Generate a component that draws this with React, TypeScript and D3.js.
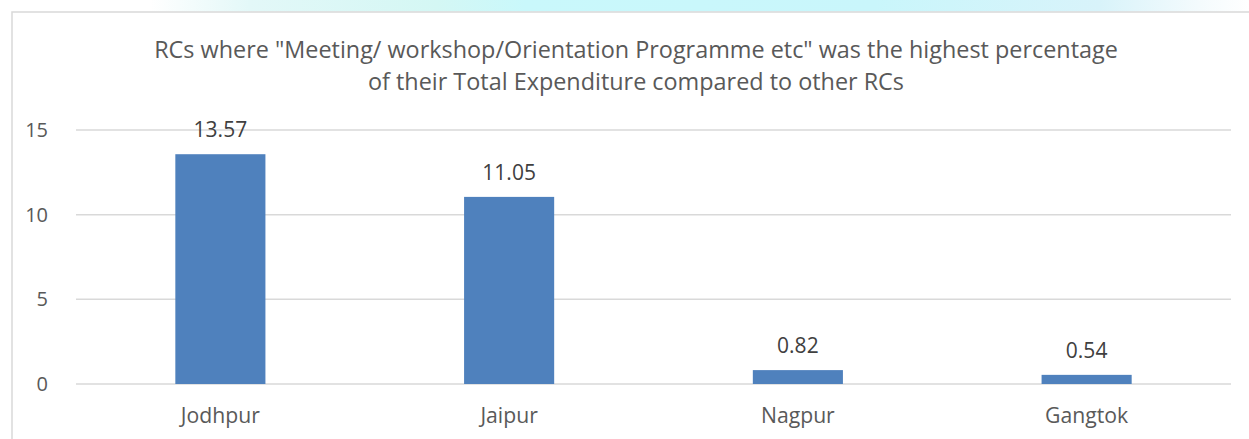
import React from "react";
import * as d3 from "d3";

const titleLines = [
  'RCs where "Meeting/ workshop/Orientation Programme etc" was the highest percentage',
  "of their Total Expenditure compared to other RCs",
];
const categories = ["Jodhpur", "Jaipur", "Nagpur", "Gangtok"];
const values = [13.57, 11.05, 0.82, 0.54];
const yTicks = [0, 5, 10, 15];

const W = 1249;
const H = 439;
const FONT = "'Open Sans', Lato, sans-serif";

export default function App() {
  const x = d3.scaleBand<string>().domain(categories).range([76, 1231]).padding(0);
  const y = d3.scaleLinear().domain([0, 15]).range([384, 130]);
  const barW = x.bandwidth() * 0.312;

  return (
    <svg
      width={W}
      height={H}
      style={{ position: "absolute", left: 0, top: 0, background: "#fff" }}
    >
      <defs>
        <linearGradient id="strip" x1="0" x2="1" y1="0" y2="0">
          <stop offset="0" stopColor="#ffffff" />
          <stop offset="0.12" stopColor="#ffffff" />
          <stop offset="0.2" stopColor="#e3f8f8" />
          <stop offset="0.35" stopColor="#d4f7f4" />
          <stop offset="0.42" stopColor="#c9f8fb" />
          <stop offset="0.7" stopColor="#c9f6fb" />
          <stop offset="0.88" stopColor="#d8f3fa" />
          <stop offset="0.96" stopColor="#f4fbfd" />
          <stop offset="1" stopColor="#ffffff" />
        </linearGradient>
      </defs>
      <rect x={0} y={0} width={W} height={11.5} fill="url(#strip)" />
      {/* chart border */}
      <path d={`M12,${H} V12 H${W}`} fill="none" stroke="#d9d9d9" strokeWidth={1.5} />

      {/* title */}
      <text
        x={636}
        textAnchor="middle"
        fontFamily={FONT}
        fontSize={23.4}
        fill="#595959"
      >
        {titleLines.map((t, i) => (
          <tspan key={i} x={636} y={58 + i * 32}>
            {t}
          </tspan>
        ))}
      </text>

      {/* gridlines and y ticks */}
      {yTicks.map((t) => (
        <g key={t}>
          <line x1={76} x2={1231} y1={y(t)} y2={y(t)} stroke="#d9d9d9" strokeWidth={1.5} />
          <text
            x={48}
            y={y(t) + 7}
            textAnchor="end"
            fontFamily={FONT}
            fontSize={20}
            fill="#595959"
          >
            {t}
          </text>
        </g>
      ))}

      {/* bars */}
      {categories.map((c, i) => {
        const cx = (x(c) as number) + x.bandwidth() / 2;
        return (
          <g key={c}>
            <rect
              x={cx - barW / 2}
              y={y(values[i])}
              width={barW}
              height={y(0) - y(values[i])}
              fill="#4f81bd"
            />
            <text
              x={cx}
              y={y(values[i]) - 17}
              textAnchor="middle"
              fontFamily={FONT}
              fontSize={21}
              fill="#404040"
            >
              {values[i].toFixed(2)}
            </text>
            <text
              x={cx}
              y={423}
              textAnchor="middle"
              fontFamily={FONT}
              fontSize={21.2}
              fill="#595959"
            >
              {c}
            </text>
          </g>
        );
      })}
    </svg>
  );
}
